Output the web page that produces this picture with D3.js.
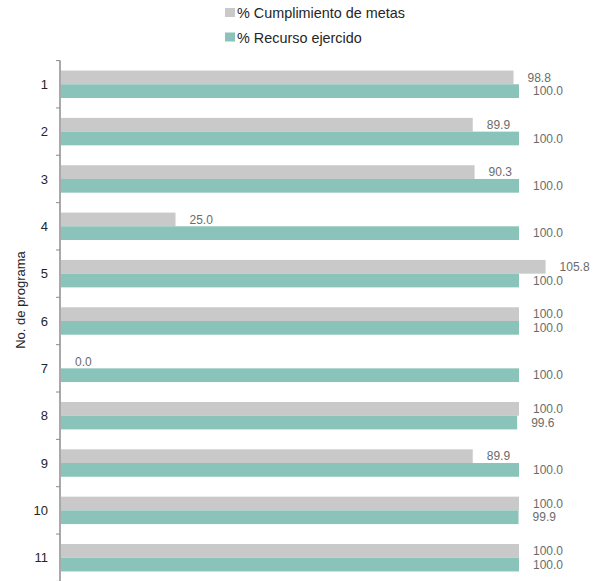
<!DOCTYPE html>
<html>
<head>
<meta charset="utf-8">
<script src="https://cdn.jsdelivr.net/npm/d3@7"></script>
<style>
  body { margin: 0; background: #fff; }
  text { font-family: "Liberation Sans", Arial, sans-serif; }
</style>
</head>
<body>
<svg id="chart" width="603" height="581"></svg>
<script>
// donnees du graphique
var programas = ["1", "2", "3", "4", "5", "6", "7", "8", "9", "10", "11"];
var series = ["% Cumplimiento de metas", "% Recurso ejercido"];
var cumplimiento = [98.8, 89.9, 90.3, 25.0, 105.8, 100.0, 0.0, 100.0, 89.9, 100.0, 100.0];
var recurso = [100.0, 100.0, 100.0, 100.0, 100.0, 100.0, 100.0, 99.6, 100.0, 99.9, 100.0];
var colores = ["#c9c9c9", "#89c3b9"];

let svg = d3.select("#chart");

let rows = programas.map((p, i) => ({
    programa: p,
    valores: [cumplimiento[i], recurso[i]]
}));

let x = d3.scaleLinear()
    .domain([0, 100])
    .range([61, 519]);

let y0 = d3.scaleBand()
    .domain(programas)
    .range([60.6, 581.4]);

let y1 = d3.scaleBand()
    .domain(series)
    .range([0, y0.bandwidth()])
    .paddingOuter(0.727);

// barres
let g = svg.selectAll(".grp")
    .data(rows)
    .enter().append("g")
    .attr("class", "grp")
    .attr("transform", d => "translate(0," + y0(d.programa) + ")");

g.selectAll("rect")
    .data(d => d.valores.map((v, k) => ({serie: series[k], v: v, k: k})))
    .enter().append("rect")
    .attr("x", x(0))
    .attr("y", d => y1(d.serie))
    .attr("width", d => x(d.v) - x(0))
    .attr("height", y1.bandwidth())
    .attr("fill", d => colores[d.k]);

g.selectAll(".lbl")
    .data(d => d.valores.map((v, k) => ({serie: series[k], v: v})))
    .enter().append("text")
    .attr("class", "lbl")
    .attr("x", d => x(d.v) + 14)
    .attr("y", d => y1(d.serie) + y1.bandwidth() / 2)
    .attr("dy", "0.35em")
    .attr("font-size", 12)
    .attr("fill", "#6b6b6b")
    .text(d => d.v.toFixed(1));

// axe des categories
let axis = svg.append("g");
axis.append("line")
    .attr("x1", 60).attr("x2", 60)
    .attr("y1", y0.range()[0]).attr("y2", y0.range()[1])
    .attr("stroke", "#8c8c8c")
    .attr("stroke-width", 1.5);

let bornes = programas.map(p => y0(p)).concat([y0.range()[1]]);
axis.selectAll(".tick")
    .data(bornes)
    .enter().append("line")
    .attr("x1", 56).attr("x2", 60)
    .attr("y1", d => d).attr("y2", d => d)
    .attr("stroke", "#8c8c8c");

axis.selectAll(".cat")
    .data(programas)
    .enter().append("text")
    .attr("x", 48)
    .attr("y", d => y0(d) + y0.bandwidth() / 2)
    .attr("dy", "0.35em")
    .attr("text-anchor", "end")
    .attr("font-size", 13)
    .attr("fill", "#262626")
    .text(d => d);

svg.append("text")
    .attr("transform", "translate(25,300) rotate(-90)")
    .attr("text-anchor", "middle")
    .attr("font-size", 13)
    .attr("fill", "#262626")
    .text("No. de programa");

// legende
let leg = svg.selectAll(".leg")
    .data(series)
    .enter().append("g")
    .attr("transform", (d, i) => "translate(225," + (8 + i * 24.5) + ")");
leg.append("rect")
    .attr("width", 10).attr("height", 9)
    .attr("fill", (d, i) => colores[i]);
leg.append("text")
    .attr("x", 12)
    .attr("y", 5)
    .attr("dy", "0.35em")
    .attr("font-size", 14.4)
    .attr("fill", "#262626")
    .text(d => d);
</script>
</body>
</html>
